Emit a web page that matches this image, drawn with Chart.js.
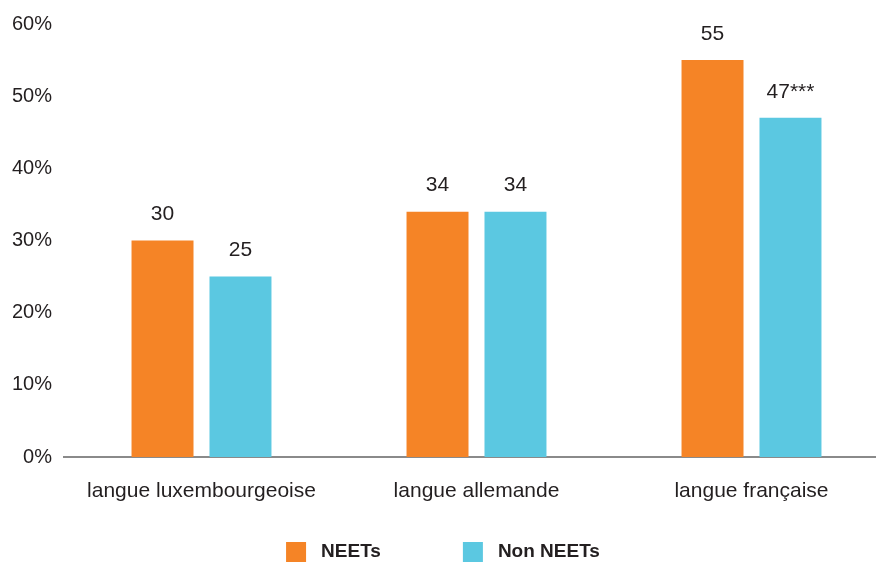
<!DOCTYPE html>
<html>
<head>
<meta charset="utf-8">
<script src="https://cdn.jsdelivr.net/npm/chart.js@4/dist/chart.umd.min.js"></script>
<style>
  html, body { margin: 0; padding: 0; background: #fff; overflow: hidden; }
  /* plus large que la fenêtre : l'axe x déborde à droite */
  #wrap { width: 889px; height: 563px; }
</style>
</head>
<body>
<div id="wrap"><canvas id="chart"></canvas></div>
<script>
// Données
const categories = ["langue luxembourgeoise", "langue allemande", "langue française"]
const neets = [30, 34, 55]
const nonNeets = [25, 34, 47]
const neetsLabels = ["30", "34", "55"]
const nonNeetsLabels = ["25", "34", "47***"]
const yTicks = [0, 10, 20, 30, 40, 50, 60]

const textColor = "#231f20"
const font = "'Liberation Sans', Arial, sans-serif"

// étiquettes au-dessus des barres
const valueLabels = {
  id: "valueLabels",
  afterDatasetsDraw(chart) {
    const ctx = chart.ctx
    const texts = [neetsLabels, nonNeetsLabels]
    ctx.save()
    ctx.font = "21px " + font
    ctx.fillStyle = textColor
    ctx.textAlign = "center"
    ctx.textBaseline = "middle"
    chart.data.datasets.forEach((ds, i) => {
      chart.getDatasetMeta(i).data.forEach((bar, j) => {
        ctx.fillText(texts[i][j], bar.x, bar.y - 26)
      })
    })
    ctx.restore()
  }
}

// légende en bas (carrés + texte), centrée
const bottomLegend = {
  id: "bottomLegend",
  afterDraw(chart) {
    const ctx = chart.ctx
    const box = 20, gapText = 15, gapItem = 82
    const yMid = 552
    ctx.save()
    ctx.font = "bold 19px " + font
    ctx.textBaseline = "middle"
    const items = chart.data.datasets.map(ds => ({
      text: ds.label, color: ds.backgroundColor, w: ctx.measureText(ds.label).width
    }))
    const total = items.reduce((s, it) => s + box + gapText + it.w, 0) + gapItem * (items.length - 1)
    let x = 443 - total / 2
    items.forEach(it => {
      ctx.fillStyle = it.color
      ctx.fillRect(x, yMid - box / 2, box, box)
      ctx.fillStyle = textColor
      ctx.fillText(it.text, x + box + gapText, yMid)
      x += box + gapText + it.w + gapItem
    })
    ctx.restore()
  }
}

new Chart(document.getElementById("chart"), {
  type: "bar",
  data: {
    labels: categories,
    datasets: [
      {
        label: "NEETs",
        data: neets,
        backgroundColor: "#f58426",
        categoryPercentage: 0.567,
        barPercentage: 0.795
      },
      {
        label: "Non NEETs",
        data: nonNeets,
        backgroundColor: "#5bc8e1",
        categoryPercentage: 0.567,
        barPercentage: 0.795
      }
    ]
  },
  options: {
    responsive: true,
    maintainAspectRatio: false,
    animation: false,
    layout: { padding: { top: 19, right: 0, left: 0, bottom: 46 } },
    plugins: {
      tooltip: { enabled: false },
      legend: { display: false }
    },
    scales: {
      x: {
        afterFit: scale => { scale.height = 60 },
        grid: { display: false, drawTicks: false },
        border: { display: true, color: "#8a8a8a", width: 2 },
        ticks: {
          color: textColor,
          padding: 22,
          font: { family: font, size: 21 }
        }
      },
      y: {
        min: 0,
        max: 60,
        afterFit: scale => { scale.width = 64 },
        afterBuildTicks: scale => { scale.ticks = yTicks.map(v => ({ value: v })) },
        grid: { display: false, drawTicks: false },
        border: { display: false },
        ticks: {
          color: textColor,
          padding: 12,
          font: { family: font, size: 20 },
          callback: v => v + "%"
        }
      }
    }
  },
  plugins: [valueLabels, bottomLegend]
})
</script>
</body>
</html>
